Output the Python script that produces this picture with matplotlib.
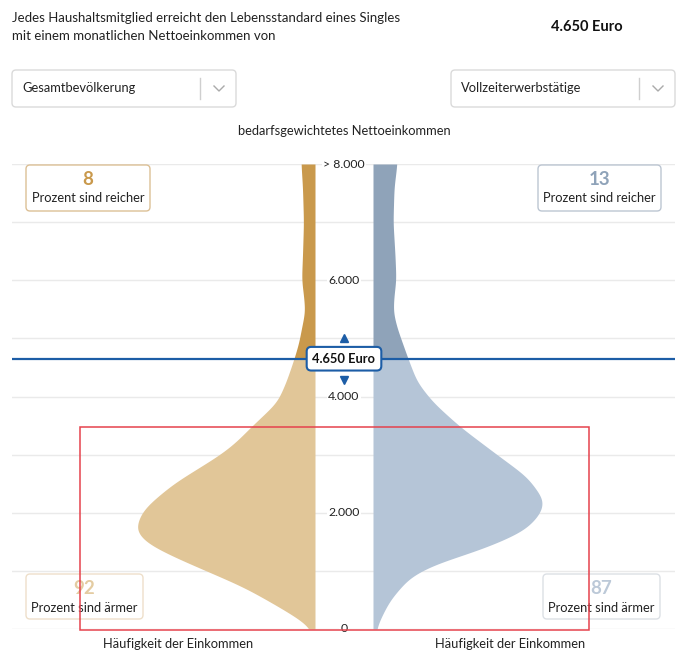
import numpy as np
import matplotlib
matplotlib.use("Agg")
import matplotlib.pyplot as plt
from matplotlib.patches import FancyBboxPatch, Rectangle

plt.rcParams['font.family'] = ['Lato', 'DejaVu Sans']

# ---------------- data ----------------
threshold = 4650
threshold_label = "4.650 Euro"
left_group = "Gesamtbevölkerung"
right_group = "Vollzeiterwerbstätige"
left_richer, left_poorer = 8, 92
right_richer, right_poorer = 13, 87

tick_values = [0, 2000, 4000, 6000, 8000]
tick_labels = ["0", "2.000", "4.000", "6.000", "> 8.000"]
grid_values = [0, 1000, 2000, 3000, 4000, 5000, 6000, 7000, 8000]

# income levels and relative frequency (violin half-width) – Gesamtbevölkerung
left_income = [0, 150, 380, 720, 980, 1240, 1480, 1700, 2000, 2170, 2510, 3000, 3200,
               3480, 3900, 4250, 4650, 4940, 5180, 5460, 5750, 6000, 6430, 7000, 7600, 8000]
left_freq = [3, 14, 36, 71, 106, 141, 169, 180, 174, 165, 141, 95, 80,
             64, 38, 29, 21, 16, 13.5, 10, 11.5, 13.5, 12.5, 11.5, 12.5, 14]

# Vollzeiterwerbstätige
right_income = [0, 200, 500, 900, 1130, 1310, 1480, 1700, 2000, 2220, 2620, 3000, 3480,
                3900, 4250, 4650, 4940, 5180, 5460, 5750, 6000, 6430, 7000, 7600, 8000]
right_freq = [3, 8, 17, 37, 63, 98, 124, 152, 168, 171, 154, 124, 87,
              60, 44, 35, 29, 24, 20, 21, 23, 22, 20, 21, 24]

# ---------------- style ----------------
gold_dark, gold_light = "#C9994C", "#E1C698"
blue_dark, blue_light = "#8FA3B9", "#B5C5D7"
line_blue = "#1C5DA6"
grid_col = "#EAEAEA"
FS = 9.3

W, H = 680, 662
fig = plt.figure(figsize=(W / 100, H / 100), dpi=100)

# main chart axes (pixel geometry: x 12..675, y 164..629)
ax = fig.add_axes([12 / W, (H - 629) / H, 663 / W, 465 / H])
ax.set_xlim(-332, 331)
ax.set_ylim(0, 8000)
ax.axis('off')


def smooth(xs, ys, sigma=110.0, step=5.0):
    """Resample the read points on a fine grid and soften corners for drawing."""
    grid = np.arange(xs[0], xs[-1] + step, step)
    vals = np.interp(grid, xs, ys)
    half = int(4 * sigma / step)
    k = np.exp(-0.5 * (np.arange(-half, half + 1) * step / sigma) ** 2)
    k /= k.sum()
    padded = np.concatenate([np.full(half, vals[0]), vals, np.full(half, vals[-1])])
    sm = np.convolve(padded, k, mode='valid')
    sm[0] = vals[0]
    return grid, sm


for g in grid_values:
    ax.axhline(g, color=grid_col, lw=1, zorder=0)

gap = 29
ly, lw_ = smooth(left_income, left_freq)
ry, rw_ = smooth(right_income, right_freq)
ax.fill_betweenx(ly, -gap - lw_, -gap, where=ly <= threshold, color=gold_light, lw=0, zorder=2, interpolate=True)
ax.fill_betweenx(ly, -gap - lw_, -gap, where=ly >= threshold, color=gold_dark, lw=0, zorder=2, interpolate=True)
ax.fill_betweenx(ry, gap, gap + rw_, where=ry <= threshold, color=blue_light, lw=0, zorder=2, interpolate=True)
ax.fill_betweenx(ry, gap, gap + rw_, where=ry >= threshold, color=blue_dark, lw=0, zorder=2, interpolate=True)

for v, lab in zip(tick_values, tick_labels):
    ax.text(0, v, lab, ha='center', va='center', fontsize=8.8, color='#222222', zorder=3,
            bbox=dict(boxstyle='square,pad=0.1', fc='white', ec='none'), clip_on=False)

ax.axhline(threshold, color=line_blue, lw=1.6, zorder=4)
ax.text(0, threshold, threshold_label, ha='center', va='center', fontsize=9.3, fontweight='bold',
        color='#111111', zorder=6,
        bbox=dict(boxstyle='round,pad=0.45,rounding_size=0.35', fc='white', ec=line_blue, lw=1.5))
ax.plot([0], [threshold + 350], marker='^', ms=6, color=line_blue, zorder=6, clip_on=False)
ax.plot([0], [threshold - 370], marker='v', ms=6, color=line_blue, zorder=6, clip_on=False)

# ---------------- UI overlay (pixel coordinates) ----------------
ui = fig.add_axes([0, 0, 1, 1], zorder=10)
ui.set_xlim(0, W)
ui.set_ylim(H, 0)
ui.axis('off')
ui.patch.set_alpha(0)

ui.text(12, 18, "Jedes Haushaltsmitglied erreicht den Lebensstandard eines Singles",
        fontsize=9.5, va='center', ha='left', color='#222222')
ui.text(12, 36, "mit einem monatlichen Nettoeinkommen von",
        fontsize=9.5, va='center', ha='left', color='#222222')
ui.text(587, 27, threshold_label, fontsize=10.5, fontweight='bold', va='center', ha='center', color='#111111')


def dropdown(x0, x1, label):
    ui.add_patch(FancyBboxPatch((x0, 70), x1 - x0, 37, boxstyle='round,pad=0,rounding_size=4',
                                fc='white', ec='#DADADA', lw=1))
    ui.text(x0 + 10, 88.5, label, fontsize=FS, va='center', ha='left', color='#222222')
    ui.plot([x1 - 36, x1 - 36], [78, 99], color='#CFCFCF', lw=1)
    cx = x1 - 17
    ui.plot([cx - 5, cx, cx + 5], [86, 91, 86], color='#AAAAAA', lw=1)


dropdown(12, 236, left_group)
dropdown(451, 675, right_group)

ui.text(344, 131, "bedarfsgewichtetes Nettoeinkommen", fontsize=FS, va='center', ha='center', color='#222222')


def infobox(x0, x1, y0, y1, num, text, numcol, edgecol):
    ui.add_patch(FancyBboxPatch((x0, y0), x1 - x0, y1 - y0, boxstyle='round,pad=0,rounding_size=4',
                                fc='white', ec=edgecol, lw=1, zorder=1))
    cx = (x0 + x1) / 2
    ui.text(cx, y0 + 14.5, str(num), fontsize=13.5, fontweight='bold', color=numcol,
            va='center', ha='center', zorder=2)
    ui.text(cx, y0 + 33.5, text, fontsize=FS, color='#222222', va='center', ha='center', zorder=2)


infobox(26, 150, 165, 211, left_richer, "Prozent sind reicher", gold_dark, "#DCC096")
infobox(538, 661, 165, 211, right_richer, "Prozent sind reicher", blue_dark, "#BCC6D2")
infobox(26, 143, 574, 619, left_poorer, "Prozent sind ärmer", "#E4CCA2", "#EEDFCA")
infobox(543, 660, 574, 619, right_poorer, "Prozent sind ärmer", "#BCC9D8", "#DCE0E5")

ui.text(178, 644, "Häufigkeit der Einkommen", fontsize=FS, va='center', ha='center', color='#222222')
ui.text(510, 644, "Häufigkeit der Einkommen", fontsize=FS, va='center', ha='center', color='#222222')

# red annotation frame
ui.add_patch(Rectangle((80, 427), 509, 203, fill=False, ec='#E5424D', lw=1.1, zorder=5))

fig.savefig("out.png", dpi=100)
